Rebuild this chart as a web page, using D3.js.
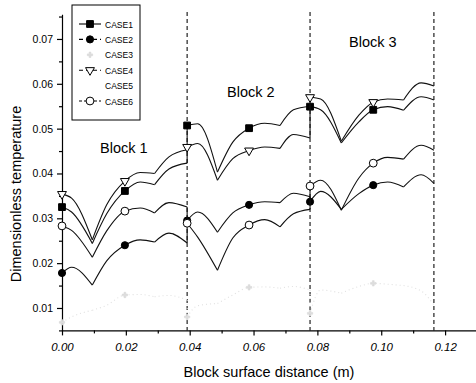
<!DOCTYPE html>
<html lang="en">
<head>
<meta charset="utf-8">
<title>Block surface temperature</title>
<style>
  body { margin:0; background:#fff; }
  svg { display:block; font-family:"Liberation Sans", Arial, Helvetica, sans-serif; }
  .curve { fill:none; stroke:#111; stroke-width:1.1; }
  .axis path, .axis line { stroke:#000; stroke-width:1.2; }
  .axis text { fill:#000; }
</style>
<script src="https://d3js.org/d3.v7.min.js"></script>
</head>
<body>
<script>
// distance along the block surface (m) - the same grid for every case
var dist = [0, 0.003, 0.0095, 0.014, 0.0197, 0.0245, 0.029, 0.0335, 0.0392,
            0.0392, 0.0425, 0.0487, 0.0535, 0.0586, 0.0635, 0.0683, 0.0725, 0.0777,
            0.0777, 0.081, 0.0875, 0.093, 0.0975, 0.102, 0.107, 0.1125, 0.1165];

var case1 = [0.0325, 0.0314, 0.0244, 0.0310, 0.0361, 0.0381, 0.0375, 0.0410, 0.0423,
             0.0507, 0.0511, 0.0403, 0.0470, 0.0501, 0.0512, 0.0507, 0.0542, 0.0550,
             0.0549, 0.0542, 0.0468, 0.0515, 0.0542, 0.0549, 0.0541, 0.0571, 0.0564];
var case2 = [0.0178, 0.0191, 0.0151, 0.0205, 0.0240, 0.0252, 0.0247, 0.0267, 0.0245,
             0.0295, 0.0314, 0.0269, 0.0312, 0.0330, 0.0337, 0.0335, 0.0356, 0.0348,
             0.0337, 0.0360, 0.0320, 0.0355, 0.0374, 0.0381, 0.0370, 0.0397, 0.0378];
var case3 = [0.0068, 0.0080, 0.0095, 0.0106, 0.0129, 0.0130, 0.0125, 0.0128, 0.0118,
             0.0080, 0.0105, 0.0110, 0.0129, 0.0146, 0.0147, 0.0144, 0.0148, 0.0140,
             0.0088, 0.0140, 0.0133, 0.0148, 0.0155, 0.0153, 0.0150, 0.0138, 0.0107];
var case4 = [0.0354, 0.0345, 0.0252, 0.0330, 0.0383, 0.0402, 0.0400, 0.0437, 0.0453,
             0.0459, 0.0467, 0.0385, 0.0433, 0.0451, 0.0459, 0.0456, 0.0487, 0.0479,
             0.0570, 0.0566, 0.0472, 0.0530, 0.0559, 0.0566, 0.0564, 0.0602, 0.0595];
var case5 = [];   // not visible in the figure
var case6 = [0.0283, 0.0273, 0.0213, 0.0272, 0.0316, 0.0323, 0.0312, 0.0335, 0.0325,
             0.0289, 0.0258, 0.0184, 0.0256, 0.0285, 0.0297, 0.0281, 0.0310, 0.0320,
             0.0372, 0.0385, 0.0318, 0.0390, 0.0423, 0.0436, 0.0432, 0.0463, 0.0452];

var caseNames = ["CASE1", "CASE2", "CASE3", "CASE4", "CASE5", "CASE6"];
var markerIdx = [0, 4, 9, 13, 18, 22];            // points carrying a symbol
var cuspIdx = [2, 6, 8, 9, 11, 15, 17, 18, 20, 24]; // sharp corners / jumps

var xTicks = [0, 0.02, 0.04, 0.06, 0.08, 0.10, 0.12];
var xMinor = [0.01, 0.03, 0.05, 0.07, 0.09, 0.11, 0.13];
var yTicks = [0.01, 0.02, 0.03, 0.04, 0.05, 0.06, 0.07];
var yMinor = [0.005, 0.015, 0.025, 0.035, 0.045, 0.055, 0.065, 0.075];

var blockEdges = [0.0392, 0.0777, 0.1165];
var blockNames = ["Block 1", "Block 2", "Block 3"];
var blockLabelX = [0.0119, 0.0517, 0.0899];
var blockLabelY = [0.0446, 0.0571, 0.0682];

var width = 476, height = 383;
var svg = d3.select("body").append("svg")
    .attr("width", width)
    .attr("height", height);

var x = d3.scaleLinear().domain([0, 0.13]).range([62, 477]);
var y = d3.scaleLinear().domain([0.005, 0.0755]).range([330.4, 14.3]);

// block boundaries
svg.selectAll(".edge").data(blockEdges).enter().append("line")
    .attr("class", "edge")
    .attr("x1", function(d){ return x(d); })
    .attr("x2", function(d){ return x(d); })
    .attr("y1", 12).attr("y2", y(0.005))
    .style("stroke", "#222").style("stroke-width", 1.2)
    .style("stroke-dasharray", "4,3");

// axes
var fmt = d3.format(".2f");
svg.append("g").attr("class", "axis")
    .attr("transform", "translate(0," + y(0.005) + ")")
    .call(d3.axisBottom(x).tickValues(xTicks).tickSize(5).tickSizeOuter(0)
        .tickPadding(7).tickFormat(fmt))
    .selectAll("text").style("font-size", "11.5px").style("font-style", "italic");
svg.append("g").attr("class", "axis")
    .attr("transform", "translate(0," + y(0.005) + ")")
    .call(d3.axisBottom(x).tickValues(xMinor).tickSize(3).tickFormat(""))
    .select(".domain").remove();

svg.append("g").attr("class", "axis")
    .attr("transform", "translate(62,0)")
    .call(d3.axisLeft(y).tickValues(yTicks).tickSize(5).tickSizeOuter(0)
        .tickPadding(4).tickFormat(fmt))
    .selectAll("text").style("font-size", "10.5px");
svg.append("g").attr("class", "axis")
    .attr("transform", "translate(62,0)")
    .call(d3.axisLeft(y).tickValues(yMinor).tickSize(3).tickFormat(""))
    .select(".domain").remove();

// axis titles
svg.append("text")
    .attr("x", 269).attr("y", 377)
    .attr("text-anchor", "middle")
    .style("font-size", "14.5px")
    .text("Block surface distance (m)");
svg.append("text")
    .attr("transform", "translate(21,194) rotate(-90)")
    .attr("text-anchor", "middle")
    .style("font-size", "14.5px")
    .text("Dimensionless temperature");

svg.selectAll(".blk").data(blockNames).enter().append("text")
    .attr("class", "blk")
    .attr("x", function(d, i){ return x(blockLabelX[i]); })
    .attr("y", function(d, i){ return y(blockLabelY[i]); })
    .style("font-size", "14.5px")
    .text(function(d){ return d; });

// split a series into arches between cusps
function pieces(vals) {
    var pts = dist.map(function(d, i){ return [d, vals[i]]; });
    var cuts = [0].concat(cuspIdx, [dist.length - 1]);
    var out = [];
    for (var k = 0; k < cuts.length - 1; k++) out.push(pts.slice(cuts[k], cuts[k + 1] + 1));
    return out;
}

var line = d3.line()
    .x(function(d){ return x(d[0]); })
    .y(function(d){ return y(d[1]); })
    .curve(d3.curveMonotoneX);

var symbols = {
    square:   { type: d3.symbolSquare,   size: 46, fill: "#000", rot: 0 },
    dot:      { type: d3.symbolCircle,   size: 40, fill: "#000", rot: 0 },
    circle:   { type: d3.symbolCircle,   size: 48, fill: "#fff", rot: 0 },
    triangle: { type: d3.symbolTriangle, size: 34, fill: "#fff", rot: 180 },
    cross:    { type: d3.symbolCross,    size: 16, fill: "#ddd", rot: 0 }
};

var series = [
    { vals: case1, sym: "square",   color: "#111", dash: null },
    { vals: case2, sym: "dot",      color: "#111", dash: "4,3" },
    { vals: case3, sym: "cross",    color: "#e0e0e0", dash: "1,3" },
    { vals: case4, sym: "triangle", color: "#111", dash: "4,3" },
    { vals: case5, sym: null,       color: "#fff", dash: null },
    { vals: case6, sym: "circle",   color: "#111", dash: "3,2" }
];

function drawSymbol(g, name, cx, cy, stroke) {
    var s = symbols[name];
    g.append("path")
        .attr("d", d3.symbol().type(s.type).size(s.size))
        .attr("transform", "translate(" + cx + "," + cy + ") rotate(" + s.rot + ")")
        .style("fill", s.fill)
        .style("stroke", stroke)
        .style("stroke-width", name == "cross" ? 0.6 : 1);
}

series.forEach(function(s) {
    if (!s.vals.length) return;
    var g = svg.append("g");
    g.selectAll("path.curve").data(pieces(s.vals)).enter().append("path")
        .attr("class", "curve")
        .attr("d", line)
        .style("stroke", s.color)
        .style("stroke-dasharray", s.sym == "cross" ? "1,3" : null);
    markerIdx.forEach(function(i) {
        drawSymbol(g, s.sym, x(dist[i]), y(s.vals[i]), s.sym == "cross" ? "#d8d8d8" : "#000");
    });
});

// legend
var lg = svg.append("g");
lg.append("rect")
    .attr("x", 72).attr("y", 5).attr("width", 68).attr("height", 115)
    .style("fill", "#fff").style("stroke", "#000").style("stroke-width", 1);
series.forEach(function(s, i) {
    var cy = 24 + i * 15.4;
    if (s.sym && s.sym != "cross") {
        lg.append("line")
            .attr("x1", 79).attr("x2", 101).attr("y1", cy).attr("y2", cy)
            .style("stroke", "#000").style("stroke-width", 1.1)
            .style("stroke-dasharray", s.dash);
        drawSymbol(lg, s.sym, 90, cy, "#000");
    } else if (s.sym == "cross") {
        drawSymbol(lg, s.sym, 90, cy, "#d8d8d8");
    }
    lg.append("text")
        .attr("x", 105).attr("y", cy + 3.5)
        .attr("textLength", 28).attr("lengthAdjust", "spacingAndGlyphs")
        .style("font-size", "9.5px")
        .text(caseNames[i]);
});
</script>
</body>
</html>
